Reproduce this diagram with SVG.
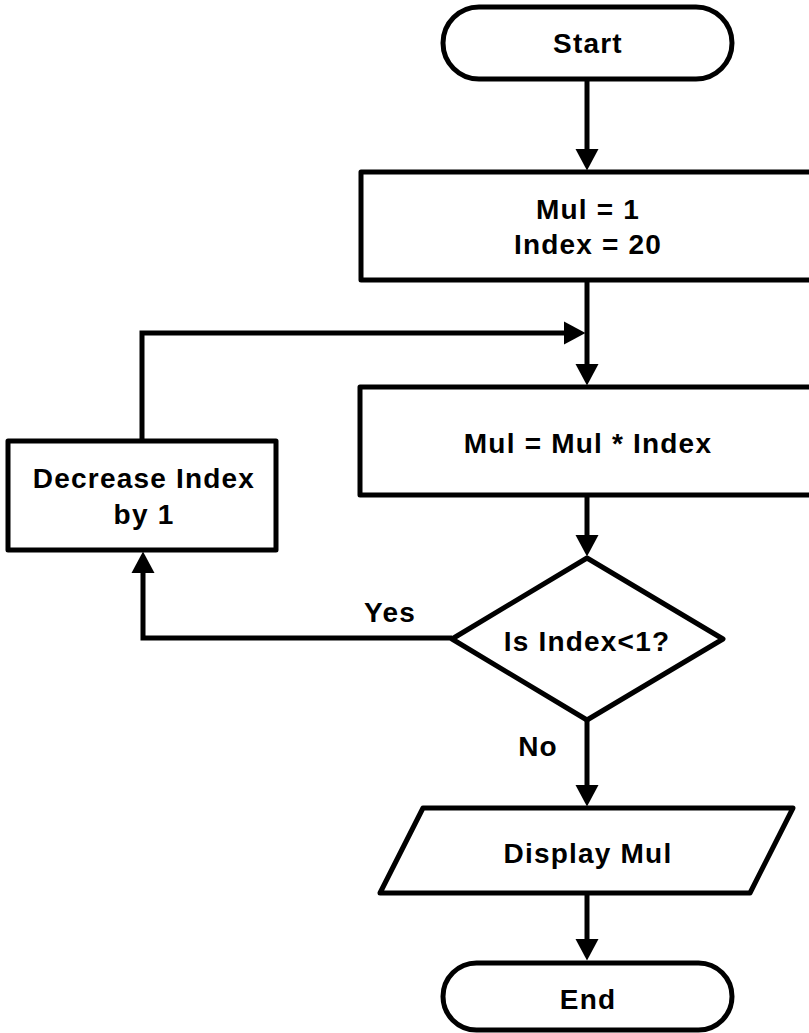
<svg xmlns="http://www.w3.org/2000/svg" width="809" height="1033" viewBox="0 0 809 1033">
<style>
.s{fill:#fff;stroke:#000;stroke-width:5;stroke-linejoin:round}
.c{fill:none;stroke:#000;stroke-width:5}
text{font-family:"Liberation Sans",Arial,sans-serif;font-weight:bold;font-size:28px;letter-spacing:1.2px;fill:#000;text-anchor:middle}
</style>
<defs>
<marker id="ah" markerUnits="userSpaceOnUse" markerWidth="22" markerHeight="24" refX="0" refY="11.5" orient="auto" overflow="visible">
<path d="M0,0 L21.5,11.5 L0,23 Z" fill="#000"/>
</marker>
</defs>
<rect width="809" height="1033" fill="#fff"/>
<g id="connectors">
<path class="c" d="M587,80 V149" marker-end="url(#ah)"/>
<path class="c" d="M587,280 V364" marker-end="url(#ah)"/>
<path class="c" d="M142,441 V333 H564" marker-end="url(#ah)"/>
<path class="c" d="M587,495 V535" marker-end="url(#ah)"/>
<path class="c" d="M452,638 H143 V573" marker-end="url(#ah)"/>
<path class="c" d="M587,720 V785" marker-end="url(#ah)"/>
<path class="c" d="M587,893 V939" marker-end="url(#ah)"/>
</g>
<g id="start">
<rect class="s" x="443" y="7" width="289" height="72" rx="36"/>
<text x="588" y="53">Start</text>
</g>
<g id="init">
<rect class="s" x="361" y="172" width="456" height="108"/>
<text x="588" y="219">Mul = 1</text>
<text x="588" y="254">Index = 20</text>
</g>
<g id="multiply">
<rect class="s" x="360" y="387" width="457" height="108"/>
<text x="588" y="453">Mul = Mul * Index</text>
</g>
<g id="decrease">
<rect class="s" x="8" y="441" width="268" height="109"/>
<text x="144" y="488">Decrease Index</text>
<text x="144" y="524">by 1</text>
</g>
<g id="decision">
<polygon class="s" points="587,558 723,639 587,720 452,639"/>
<text x="587" y="651">Is Index&lt;1?</text>
</g>
<text x="390" y="622">Yes</text>
<text x="538" y="756">No</text>
<g id="display">
<polygon class="s" points="423,808 793,808 750,893 380,893"/>
<text x="588" y="863">Display Mul</text>
</g>
<g id="end">
<rect class="s" x="443" y="963" width="289" height="67" rx="33.5"/>
<text x="588" y="1009">End</text>
</g>
</svg>
